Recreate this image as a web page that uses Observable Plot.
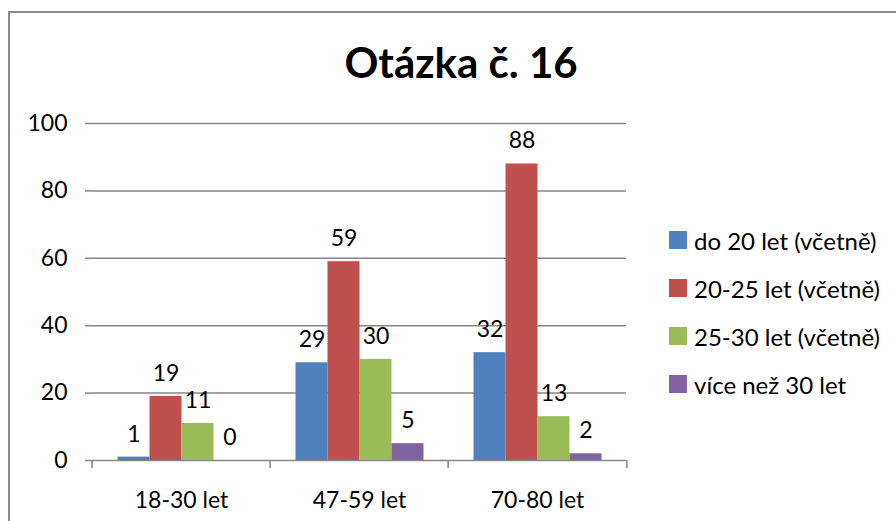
<!DOCTYPE html>
<html>
<head>
<meta charset="utf-8">
<script src="https://cdn.jsdelivr.net/npm/d3@7"></script>
<script src="https://cdn.jsdelivr.net/npm/@observablehq/plot@0.6"></script>
<style>
  html, body { margin: 0; padding: 0; background: #fff; }
  #wrap { position: relative; width: 896px; height: 521px; overflow: hidden; background: #fff; font-family: Lato, "Open Sans", sans-serif; }
  #frame { position: absolute; left: 8px; top: 11px; width: 1000px; height: 1000px; border-left: 2px solid #8c8c8c; border-top: 2px solid #8c8c8c; }
  #title { position: absolute; left: 0; width: 922px; top: 41px; text-align: center; font-weight: bold; font-size: 42px; line-height: 1; color: #000; }
  #chart { position: absolute; left: 0; top: 0; }
  #legend { position: absolute; left: 669px; top: 216px; }
  .row { display: flex; align-items: center; height: 48px; font-size: 24px; color: #000; }
  .sw { width: 18px; height: 18px; margin-right: 7px; }
</style>
</head>
<body>
<div id="wrap">
  <div id="frame"></div>
  <div id="chart"></div>
  <div id="title">Otázka č. 16</div>
  <div id="legend"></div>
</div>
<script>
// ---- data ----
const title = "Otázka č. 16";
const groups = ["18-30 let", "47-59 let", "70-80 let"];
const series = ["do 20 let (včetně)", "20-25 let (včetně)", "25-30 let (včetně)", "více než 30 let"];
const do20 = [1, 29, 32];
const od20do25 = [19, 59, 88];
const od25do30 = [11, 30, 13];
const nad30 = [0, 5, 2];
const colors = ["#4F81BD", "#C0504D", "#9BBB59", "#8064A2"];
const yTicks = [0, 20, 40, 60, 80, 100];

const seriesValues = [do20, od20do25, od25do30, nad30];
const data = [];
groups.forEach((g, gi) => {
  series.forEach((s, si) => {
    data.push({group: g, series: s, value: seriesValues[si][gi]});
  });
});

// ---- layout ----
const W = 896, H = 521, mL = 90.5, mR = 269, mT = 123, mB = 61;
const facetW = (W - mL - mR) / groups.length;
const axisColor = "#868686";

const chart = Plot.plot({
  width: W, height: H,
  marginLeft: mL, marginRight: mR, marginTop: mT, marginBottom: mB,
  style: {fontFamily: "Lato, 'Open Sans', sans-serif", fontSize: "22px", color: "#000", background: "transparent", overflow: "visible"},
  fx: {domain: groups, padding: 0, label: null},
  x: {domain: series, paddingInner: 0, paddingOuter: 0.75, axis: null},
  y: {domain: [0, 100], label: null},
  color: {domain: series, range: colors},
  marks: [
    Plot.ruleY(yTicks, {stroke: axisColor, strokeWidth: 1.5}),
    Plot.barY(data, {fx: "group", x: "series", y: "value", fill: "series"}),
    Plot.text(data, {fx: "group", x: "series", y: "value", text: d => String(d.value), dy: -23, fontSize: 23, fill: "#000"}),
    Plot.axisY({ticks: yTicks, tickSize: 7, tickPadding: 18, stroke: axisColor, strokeWidth: 1.5, strokeOpacity: 1, line: true, label: null, fontSize: 23, fill: "#000"}),
    Plot.axisFx({anchor: "bottom", tickSize: 0, tickPadding: 31, label: null, fontSize: 23, fill: "#000"}),
    Plot.axisFx({anchor: "bottom", tickSize: 8, tickFormat: () => "", dx: -facetW / 2, stroke: axisColor, strokeWidth: 1.5, strokeOpacity: 1, label: null}),
    Plot.axisFx({anchor: "bottom", ticks: [groups[groups.length - 1]], tickSize: 8, tickFormat: () => "", dx: facetW / 2, stroke: axisColor, strokeWidth: 1.5, strokeOpacity: 1, label: null})
  ]
});
document.getElementById("chart").appendChild(chart);
document.getElementById("title").textContent = title;

// ---- legend ----
const legend = d3.select("#legend");
series.forEach((s, i) => {
  const row = legend.append("div").attr("class", "row");
  row.append("div").attr("class", "sw").style("background", colors[i]);
  row.append("span").text(s);
});
</script>
</body>
</html>
